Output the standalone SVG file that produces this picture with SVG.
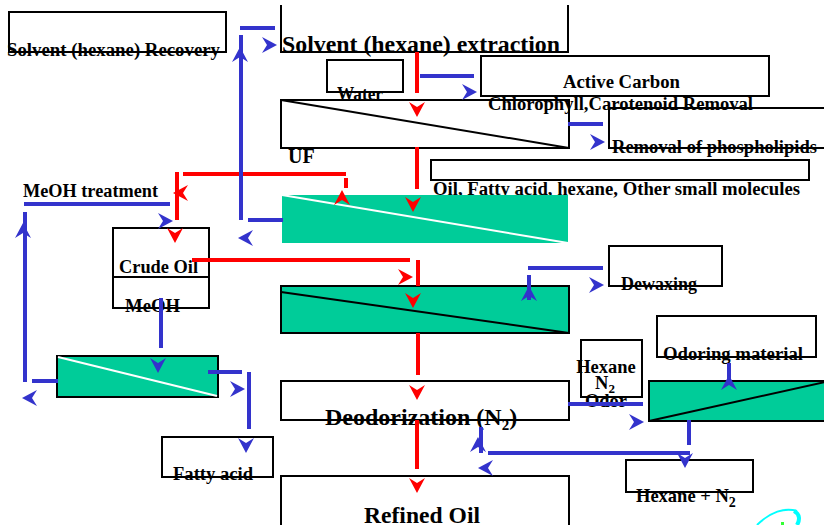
<svg xmlns="http://www.w3.org/2000/svg" xmlns:xlink="http://www.w3.org/1999/xlink" width="824" height="525" viewBox="0 0 824 525">
<style>
.bx{fill:#ffffff;stroke:#000000;stroke-width:2}
.gb{fill:#00cc99;stroke:#000000;stroke-width:2}
.gn{fill:#00cc99;stroke:none}
.dk{stroke:#000000;stroke-width:2;fill:none}
.dw{stroke:#ffffff;stroke-width:2;fill:none}
.t{font-family:"Liberation Serif","Times New Roman",serif;font-weight:bold;font-size:18.5px;fill:#000000}
.tl{font-size:23px}
.bl{stroke:#3333cc;stroke-width:4;fill:none}
.rd{stroke:#ff0000;stroke-width:4;fill:none}
.ab{fill:#3333cc}
.ar{fill:#ff0000}
</style>
<defs>
<path id="ah" d="M0,0 L-15,-8 L-10,0 L-15,8 Z"/>
</defs>
<rect width="824" height="525" fill="#ffffff"/>
<g id="nodes">
<g id="recovery">
<rect class="bx" x="9" y="12" width="217" height="40"/>
<text class="t" x="7" y="56" textLength="213" lengthAdjust="spacingAndGlyphs">Solvent (hexane) Recovery</text>
</g>
<g id="extraction">
<path class="dk" d="M281,5 V52 H568 V5"/>
<text class="t tl" x="282" y="52" textLength="278" lengthAdjust="spacingAndGlyphs">Solvent (hexane) extraction</text>
</g>
<g id="water">
<rect class="bx" x="327" y="60" width="76" height="32"/>
<text class="t" x="337" y="100" textLength="46" lengthAdjust="spacingAndGlyphs">Water</text>
</g>
<g id="activecarbon">
<rect class="bx" x="481" y="56" width="288" height="40"/>
<text class="t" x="563" y="88" textLength="117" lengthAdjust="spacingAndGlyphs">Active Carbon</text>
</g>
<g id="uf">
<rect class="bx" x="281" y="100" width="288" height="48"/>
<path class="dk" d="M281,100 L569,148"/>
<text class="t" x="288" y="163" style="font-size:20px">UF</text>
</g>
<g id="phospholipids">
<rect class="bx" x="609" y="108" width="240" height="40"/>
<text class="t" x="612" y="153" textLength="205" lengthAdjust="spacingAndGlyphs">Removal of phospholipids</text>
</g>
<g id="chlorophyll">
<text class="t" x="488" y="110" textLength="265" lengthAdjust="spacingAndGlyphs">Chlorophyll,Carotenoid Removal</text>
</g>
<g id="oilmix">
<rect class="bx" x="431" y="160" width="378" height="20"/>
<text class="t" x="433" y="195" textLength="367" lengthAdjust="spacingAndGlyphs">Oil, Fatty acid, hexane, Other small molecules</text>
</g>
<g id="membrane1">
<rect class="gn" x="282" y="195" width="286" height="48"/>
<path class="dw" d="M282,195 L568,243"/>
</g>
<g id="meohtreatment">
<text class="t" x="23" y="197" textLength="135" lengthAdjust="spacingAndGlyphs">MeOH treatment</text>
</g>
<g id="crudeoil">
<rect class="bx" x="113" y="228" width="96" height="80"/>
<path class="dk" d="M113,277 H209"/>
<text class="t" x="119" y="273" textLength="79" lengthAdjust="spacingAndGlyphs">Crude Oil</text>
<text class="t" x="125" y="312" textLength="55" lengthAdjust="spacingAndGlyphs">MeOH</text>
</g>
<g id="membrane2">
<rect class="gb" x="281" y="286" width="288" height="47"/>
<path class="dk" d="M281,292 L569,333"/>
</g>
<g id="dewaxing">
<rect class="bx" x="609" y="246" width="113" height="40"/>
<text class="t" x="621" y="290" textLength="76" lengthAdjust="spacingAndGlyphs">Dewaxing</text>
</g>
<g id="membrane4">
<rect class="gb" x="57" y="356" width="161" height="41"/>
<path class="dw" d="M58,357 L217,396"/>
</g>
<g id="fattyacid">
<rect class="bx" x="162" y="437" width="111" height="40"/>
<text class="t" x="173" y="480" textLength="80" lengthAdjust="spacingAndGlyphs">Fatty acid</text>
</g>
<g id="deodorization">
<rect class="bx" x="281" y="381" width="288" height="39"/>
<text class="t" x="325" y="425" style="font-size:24px">Deodorization (N<tspan dy="5" style="font-size:15px">2</tspan><tspan dy="-5">)</tspan></text>
</g>
<g id="refinedoil">
<rect class="bx" x="281" y="476" width="288" height="60"/>
<text class="t tl" x="364" y="523" textLength="116" lengthAdjust="spacingAndGlyphs">Refined Oil</text>
</g>
<g id="hexaneodor">
<rect class="bx" x="581" y="340" width="61" height="57"/>
<text class="t" x="606" y="373" text-anchor="middle">Hexane</text>
<text class="t" x="605" y="389" text-anchor="middle">N<tspan dy="4" style="font-size:13px">2</tspan></text>
<text class="t" x="606" y="407" text-anchor="middle">Odor</text>
</g>
<g id="odoring">
<rect class="bx" x="657" y="316" width="159" height="41"/>
<text class="t" x="663" y="360" textLength="140" lengthAdjust="spacingAndGlyphs">Odoring material</text>
</g>
<g id="membrane3">
<rect class="gb" x="649" y="381" width="200" height="40"/>
<path class="dk" d="M649,421 L830,381"/>
</g>
<g id="hexanen2">
<rect class="bx" x="626" y="460" width="127" height="32"/>
<text class="t" x="636" y="502">Hexane + N<tspan dy="5" style="font-size:14px">2</tspan></text>
</g>
<g id="logo">
<path d="M757,525 C770,512 785,507 797,511" stroke="#00ffff" stroke-width="2" fill="none"/>
<path d="M794,511 C800,514 800,520 797,525" stroke="#00ffff" stroke-width="4" fill="none"/>
<rect x="781" y="522" width="3" height="3" fill="#33ff33"/>
</g>
</g>
<g id="connectors">
<path class="rd" d="M417,52 V93"/>
<path class="rd" d="M417,147 V189"/>
<path class="rd" d="M183,174 H346 M346,178 V188"/>
<path class="rd" d="M177,172 V220"/>
<path class="rd" d="M192,260 H410 M418,260 V286 M418,333 V375"/>
<path class="rd" d="M417,420 V469"/>
<path class="bl" d="M241,220 V35 M240,28 H275"/>
<path class="bl" d="M248,220 H283"/>
<path class="bl" d="M420,76 H474"/>
<path class="bl" d="M568,124 H603"/>
<path class="bl" d="M24,204 H170"/>
<path class="bl" d="M25,212 V382"/>
<path class="bl" d="M32,381 H58"/>
<path class="bl" d="M161,298 V348"/>
<path class="bl" d="M208,372 H242 M249,372 V429"/>
<path class="bl" d="M528,268 H603 M529,275 V300"/>
<path class="bl" d="M568,404 H643"/>
<path class="bl" d="M729,363 V381"/>
<path class="bl" d="M689,420 V445 M488,453 H690"/>
<path class="bl" d="M481,427 V453"/>
<use href="#ah" class="ar" transform="translate(417,117) rotate(90)"/>
<use href="#ah" class="ar" transform="translate(413,212) rotate(90)"/>
<use href="#ah" class="ar" transform="translate(342,190) rotate(-90)"/>
<use href="#ah" class="ar" transform="translate(173,193) rotate(180)"/>
<use href="#ah" class="ar" transform="translate(175,243) rotate(90)"/>
<use href="#ah" class="ar" transform="translate(413,277)"/>
<use href="#ah" class="ar" transform="translate(413,308) rotate(90)"/>
<use href="#ah" class="ar" transform="translate(417,400) rotate(90)"/>
<use href="#ah" class="ar" transform="translate(417,493) rotate(90)"/>
<use href="#ah" class="ab" transform="translate(240,47) rotate(-90)"/>
<use href="#ah" class="ab" transform="translate(277,45)"/>
<use href="#ah" class="ab" transform="translate(238,238) rotate(180)"/>
<use href="#ah" class="ab" transform="translate(477,92)"/>
<use href="#ah" class="ab" transform="translate(605,142)"/>
<use href="#ah" class="ab" transform="translate(173,221)"/>
<use href="#ah" class="ab" transform="translate(23,223) rotate(-90)"/>
<use href="#ah" class="ab" transform="translate(22,398) rotate(180)"/>
<use href="#ah" class="ab" transform="translate(158,373) rotate(90)"/>
<use href="#ah" class="ab" transform="translate(245,389)"/>
<use href="#ah" class="ab" transform="translate(246,453) rotate(90)"/>
<use href="#ah" class="ab" transform="translate(529,286) rotate(-90)"/>
<use href="#ah" class="ab" transform="translate(604,285)"/>
<use href="#ah" class="ab" transform="translate(644,422)"/>
<use href="#ah" class="ab" transform="translate(729,375) rotate(-90)"/>
<use href="#ah" class="ab" transform="translate(685,468) rotate(90)"/>
<use href="#ah" class="ab" transform="translate(478,437) rotate(-90)"/>
<use href="#ah" class="ab" transform="translate(478,468) rotate(180)"/>
</g>
</svg>
